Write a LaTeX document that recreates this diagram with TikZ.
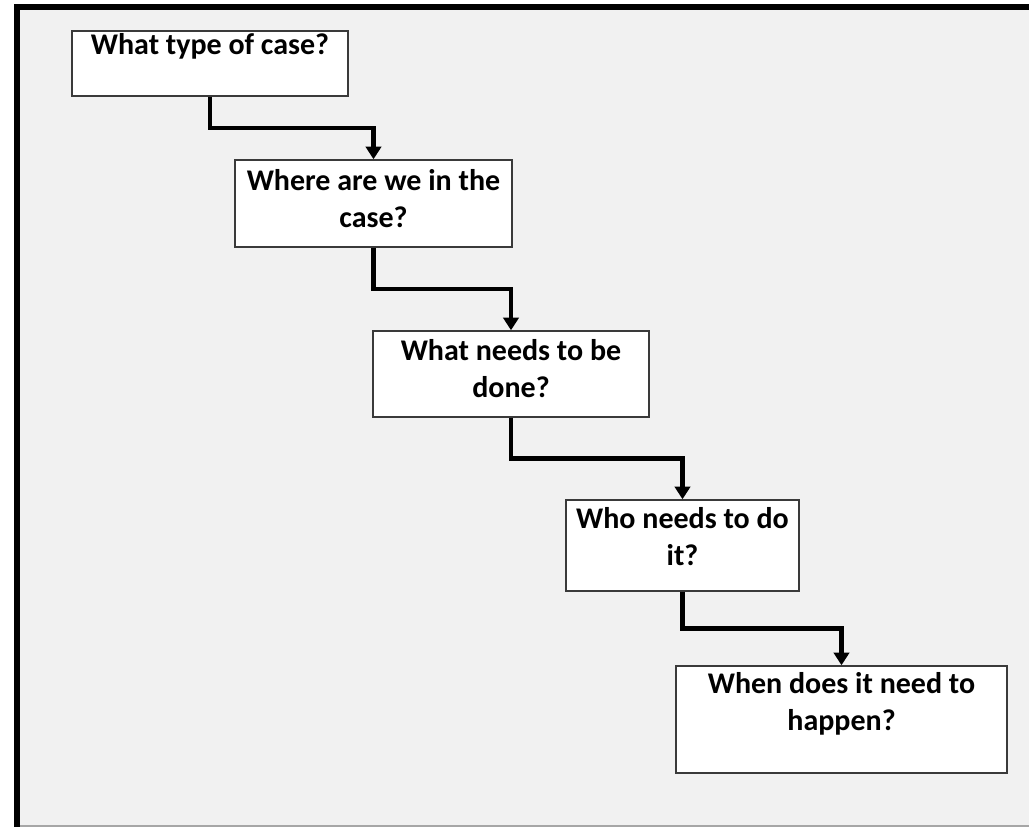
\documentclass[tikz,border=0pt]{standalone}
\usepackage{fontspec}
\setmainfont{Carlito}
\usetikzlibrary{arrows.meta,calc}
\definecolor{bgfill}{HTML}{F1F1F1}
\definecolor{boxline}{HTML}{3A3A3A}
\tikzset{
  qbox/.style={draw=boxline, line width=1.1pt, fill=white, rectangle, inner sep=0pt},
  qtext/.style={inner sep=0pt, align=center, anchor=north, font=\fontsize{22.5pt}{28pt}\selectfont\bfseries},
  conn/.style={draw=black, line width=3.4pt, -{Triangle[width=11.5pt,length=9.5pt]}, line join=miter}
}
\begin{document}
\begin{tikzpicture}[x=0.75pt,y=-0.75pt]
\useasboundingbox (0,0) rectangle (1029,827);
\fill[white] (0,0) rectangle (1029,827);
\fill[bgfill] (17,7) rectangle (1029,826);
\draw[gray!70, line width=0.8pt] (17,826) -- (1029,826);
\draw[black, line width=4.8pt] (17,827) -- (17,7) -- (1029,7);

% boxes
\node[qbox, minimum width=276*0.75pt, minimum height=65*0.75pt] (b1) at (210,63.5) {};
\node[qbox, minimum width=277*0.75pt, minimum height=87*0.75pt] (b2) at (373.5,203.5) {};
\node[qbox, minimum width=276*0.75pt, minimum height=86*0.75pt] (b3) at (511,374) {};
\node[qbox, minimum width=233*0.75pt, minimum height=91*0.75pt] (b4) at (682.5,545.5) {};
\node[qbox, minimum width=331*0.75pt, minimum height=107*0.75pt] (b5) at (841.5,719.5) {};

% texts
\node[qtext] (t1) at (210,33) {What type of case?};
\node[qtext] (t2) at (373.5,169) {Where are we in the\\case?};
\node[qtext] (t3) at (511,339) {What needs to be\\done?};
\node[qtext] (t4) at (682.5,507) {Who needs to do\\it?};
\node[qtext] (t5) at (841.5,672) {When does it need to\\happen?};

% connectors
\draw[conn] (b1.south) |- ($(b1.south)!0.5!(b2.north)$) -| (b2.north);
\draw[conn] (b2.south) |- ($(b2.south)!0.5!(b3.north)$) -| (b3.north);
\draw[conn] (b3.south) |- ($(b3.south)!0.5!(b4.north)$) -| (b4.north);
\draw[conn] (b4.south) |- ($(b4.south)!0.5!(b5.north)$) -| (b5.north);
\end{tikzpicture}
\end{document}
